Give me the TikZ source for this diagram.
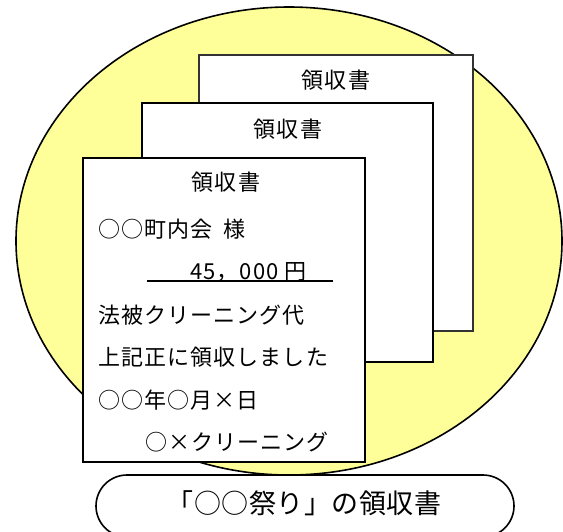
\documentclass[tikz,border=0pt]{standalone}
\usepackage{fontspec}
\usetikzlibrary{shapes.geometric}
\newfontfamily\jpbody[LetterSpace=5]{Noto Sans CJK JP}
\newfontfamily\jptitle[LetterSpace=2]{Noto Sans CJK JP}
\definecolor{festyellow}{RGB}{255,255,153}

\tikzstyle{sheet}=[draw, fill=white, line width=1.6pt, inner sep=0pt]
\tikzstyle{head}=[inner sep=0pt, font=\jpbody\fontsize{22pt}{26pt}\selectfont]
\tikzstyle{line}=[inner sep=0pt, anchor=west, font=\jpbody\fontsize{22pt}{26pt}\selectfont]

\begin{document}
\begin{tikzpicture}[x=1pt, y=-1pt]
    \useasboundingbox (0,0) rectangle (563,531);
    \node[ellipse, draw, fill=festyellow, line width=1.6pt, inner sep=0pt,
          minimum width=546pt, minimum height=468pt] (fest) at (289,241) {};
    \node[sheet, draw=black!80, minimum width=274pt, minimum height=276pt] (back) at (336,193) {};
    \node[sheet, minimum width=291pt, minimum height=259pt] (mid) at (287.5,232.5) {};
    \node[sheet, line width=2pt, minimum width=282pt, minimum height=304pt] (front) at (224,310) {};
    \node[head] (t3) at (336,80) {領収書};
    \node[head] (t2) at (288,129) {領収書};
    \node[head] (t1) at (226,182) {領収書};
    \node[line] (l1) at (98,229) {○○町内会\hspace{11pt}様};
    \node[line] (l2) at (190,272) {45，000\hspace{6pt}円};
    \node[line] (l3) at (98,315) {法被クリーニング代};
    \node[line] (l4) at (98,357) {上記正に領収しました};
    \node[line] (l5) at (98,400) {○○年○月×日};
    \node[line] (l6) at (145,442) {○×クリーニング};
    \coordinate (u1) at (147,281);
    \coordinate (u2) at (333,281);
    \draw[line width=1.8pt] (u1) -- (u2);
    \draw[fill=white, line width=1.6pt, rounded corners=31pt] (96,475) rectangle (514,537);
    \node[inner sep=0pt, font=\jptitle\fontsize{27pt}{32pt}\selectfont] (title) at (304,503) {「○○祭り」の領収書};
\end{tikzpicture}
\end{document}
